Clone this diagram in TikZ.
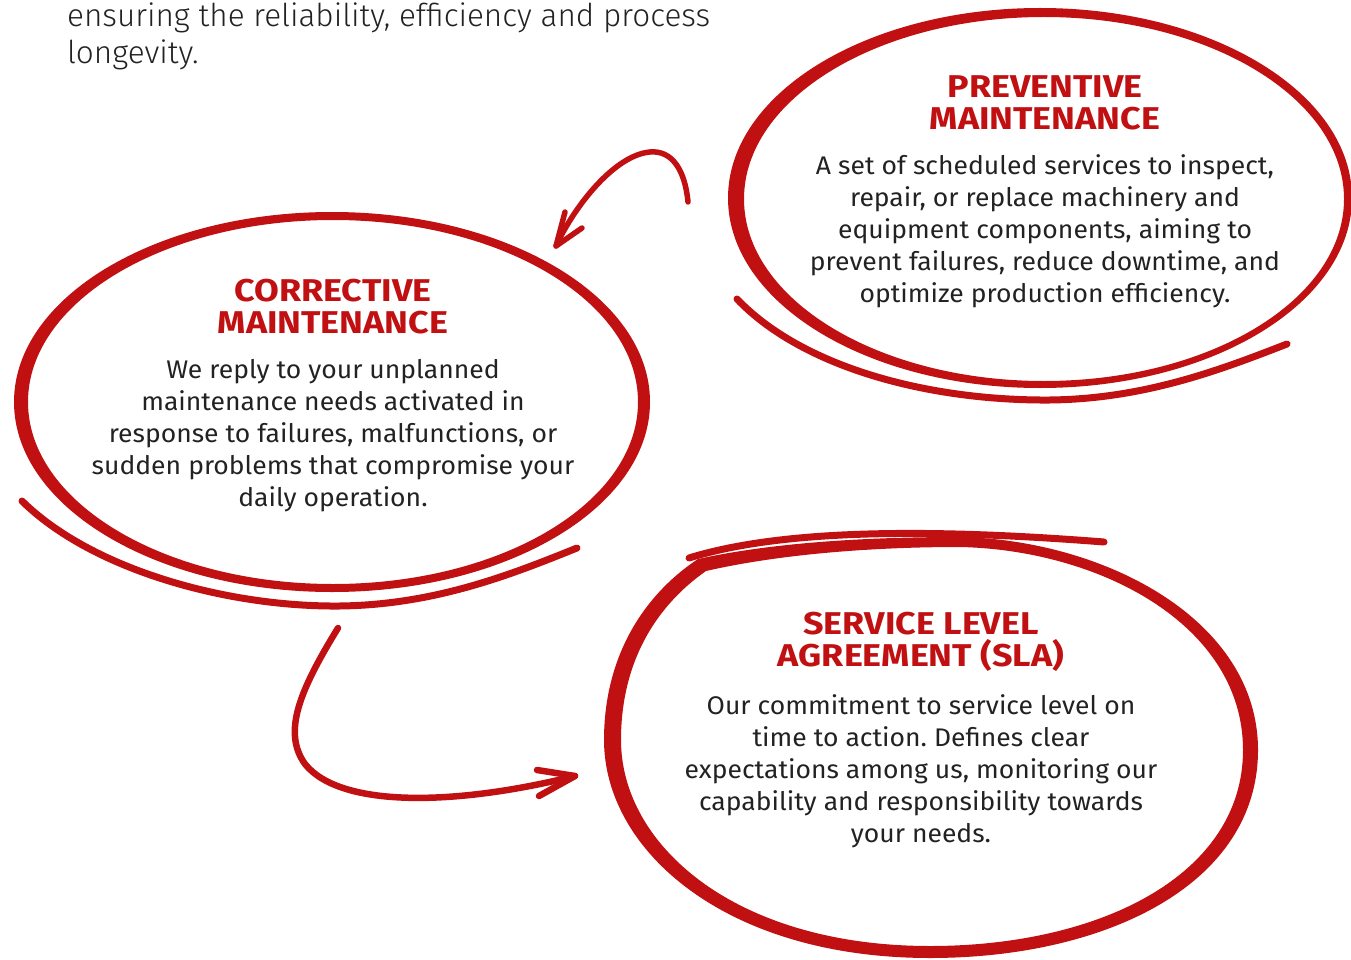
\documentclass[tikz,border=0pt]{standalone}
\usepackage{fontspec}
\setmainfont{Fira Sans}
\newfontfamily\lightfont{Fira Sans Light}
\newfontfamily\bodyfont{Fira Sans}[FakeStretch=1.04]
\newfontfamily\headfont{Fira Sans}[FakeStretch=1.14]
\definecolor{brandred}{RGB}{192,16,18}
\definecolor{ink}{RGB}{34,34,34}
\frenchspacing
\tikzset{
  ring/.style={fill=brandred, even odd rule},
  tailstroke/.style={draw=brandred, line width=7, line cap=round},
  arrowstroke/.style={draw=brandred, line width=5.5, line cap=round, line join=round},
  headtext/.style={text=brandred, align=center, font=\headfont\fontsize{31.5}{32}\selectfont\bfseries, inner sep=0},
  bodytext/.style={text=ink, align=center, font=\bodyfont\fontsize{25.5}{32}\selectfont, inner sep=0},
  introtext/.style={text=ink, anchor=base west, font=\lightfont\fontsize{31.5}{38}\selectfont, inner sep=0}
}
\begin{document}
\begin{tikzpicture}[x=1pt, y=-1pt]
\useasboundingbox (0,0) rectangle (1351,960);

% intro text
\node[introtext] (intro1) at (67,27) {ensuring the reliability, efficiency and process};
\node[introtext] (intro2) at (67,64) {longevity.};

% preventive ring (top right)
\fill[ring] (1040,198) ellipse [x radius=312, y radius=190]
            (1044,199) ellipse [x radius=300, y radius=182];
\draw[tailstroke] (737,299) .. controls (800,365) and (920,399) .. (1040,400)
                  .. controls (1140,401) and (1220,370) .. (1287,344);

% corrective ring (left)
\fill[ring] (332,402) ellipse [x radius=318, y radius=190]
            (333,402) ellipse [x radius=305, y radius=182];
\draw[tailstroke] (22,501) .. controls (90,568) and (220,605) .. (330,606)
                  .. controls (430,607) and (510,575) .. (577,548);

% SLA ring (bottom right)
\fill[ring]
  (698,559) .. controls (780,541) and (880,537) .. (960,537)
            .. controls (1105,540) and (1258,620) .. (1258,750)
            .. controls (1258,885) and (1105,958) .. (930,958)
            .. controls (725,958) and (604,850) .. (604,740)
            .. controls (604,655) and (645,594) .. (698,559) -- cycle
  (706,571) .. controls (785,553) and (880,547) .. (960,547)
            .. controls (1100,550) and (1243,625) .. (1243,750)
            .. controls (1243,875) and (1100,946) .. (930,946)
            .. controls (735,946) and (621,845) .. (621,740)
            .. controls (621,662) and (656,606) .. (706,571) -- cycle;
\draw[tailstroke] (689,558) .. controls (770,533) and (900,526) .. (1104,542);

% texts
\node[headtext] (prevH) at (1045,103) {PREVENTIVE\\MAINTENANCE};
\node[bodytext] (prevB) at (1045,231) {A set of scheduled services to inspect,\\repair, or replace machinery and\\equipment components, aiming to\\prevent failures, reduce downtime, and\\optimize production efficiency.};

\node[headtext] (corrH) at (333,307) {CORRECTIVE\\MAINTENANCE};
\node[bodytext] (corrB) at (333,436) {We reply to your unplanned\\maintenance needs activated in\\response to failures, malfunctions, or\\sudden problems that compromise your\\daily operation.};

\node[headtext] (slaH) at (921,642) {SERVICE LEVEL\\AGREEMENT (SLA)};
\node[bodytext] (slaB) at (921,771) {Our commitment to service level on\\time to action. Defines clear\\expectations among us, monitoring our\\capability and responsibility towards\\your needs.};

% arrow: preventive -> corrective
\coordinate (a1s) at (688,202);
\coordinate (a1e) at (556,246);
\coordinate (a1b1) at (565,212);
\coordinate (a1b2) at (582,228);
\draw[arrowstroke] (a1s) .. controls (685,170) and (672,150) .. (650,152)
                   .. controls (615,155) and (575,205) .. (a1e);
\draw[arrowstroke] (a1b1) -- (a1e) -- (a1b2);

% arrow: corrective -> SLA
\coordinate (a2s) at (338,628);
\coordinate (a2e) at (575,776);
\coordinate (a2b1) at (537,770);
\coordinate (a2b2) at (539,796);
\draw[arrowstroke, line width=6.5] (a2s) .. controls (300,690) and (282,732) .. (305,764)
                   .. controls (340,808) and (455,806) .. (a2e);
\draw[arrowstroke, line width=6.5] (a2b1) -- (a2e) -- (a2b2);
\end{tikzpicture}
\end{document}
